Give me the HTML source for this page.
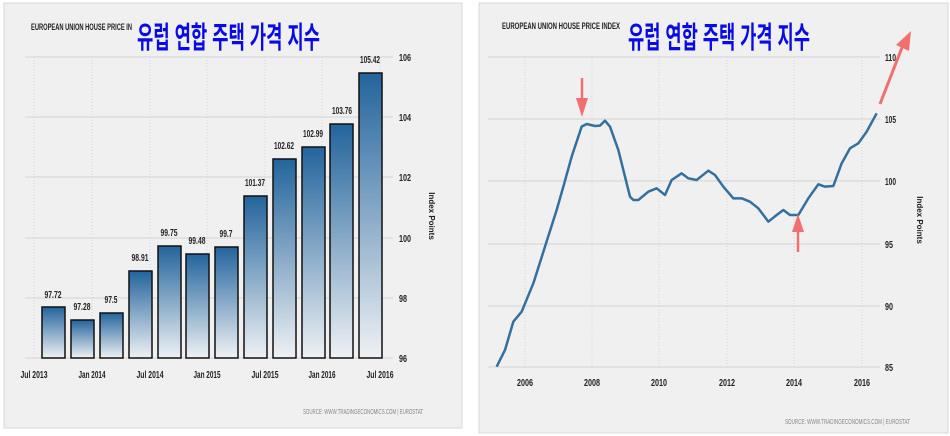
<!DOCTYPE html>
<html><head><meta charset="utf-8"><style>
body{margin:0;width:950px;height:436px;background:#fff;overflow:hidden}
svg{display:block}
text{font-family:"Liberation Sans","Noto Sans CJK KR",sans-serif}
</style></head><body>
<svg width="950" height="436" viewBox="0 0 950 436" xmlns="http://www.w3.org/2000/svg">
<defs>
<linearGradient id="g" x1="0" y1="0" x2="0" y2="1">
<stop offset="0" stop-color="#23649c"/><stop offset="1" stop-color="#eef1f4"/>
</linearGradient>
</defs>
<!-- left panel -->
<rect x="4" y="3" width="458" height="425" fill="#f0f0f0" stroke="#d8d8d8"/>
<g stroke="#d4d4d4" stroke-width="1">
<line x1="25" y1="57" x2="393" y2="57"/><line x1="25" y1="117" x2="393" y2="117"/>
<line x1="25" y1="177" x2="393" y2="177"/><line x1="25" y1="238" x2="393" y2="238"/>
<line x1="25" y1="298" x2="393" y2="298"/><line x1="25" y1="358" x2="393" y2="358"/>
</g>
<g stroke="#d4d4d4" stroke-dasharray="1,2">
<line x1="34" y1="57" x2="34" y2="358"/><line x1="92" y1="57" x2="92" y2="358"/>
<line x1="150" y1="57" x2="150" y2="358"/><line x1="207" y1="57" x2="207" y2="358"/>
<line x1="265" y1="57" x2="265" y2="358"/><line x1="322" y1="57" x2="322" y2="358"/>
<line x1="380" y1="57" x2="380" y2="358"/>
</g>
<g fill="url(#g)" stroke="#111" stroke-width="1.5">
<rect x="42" y="307" width="23" height="51"/>
<rect x="71" y="320" width="23" height="38"/>
<rect x="100" y="313" width="23" height="45"/>
<rect x="129" y="271" width="23" height="87"/>
<rect x="158" y="246" width="23" height="112"/>
<rect x="186" y="254" width="23" height="104"/>
<rect x="215" y="247" width="23" height="111"/>
<rect x="244" y="196" width="23" height="162"/>
<rect x="273" y="159" width="23" height="199"/>
<rect x="302" y="147" width="23" height="211"/>
<rect x="330" y="124" width="23" height="234"/>
<rect x="359" y="73" width="23" height="285"/>
</g>
<g font-size="10" fill="#222" text-anchor="middle" font-weight="bold" lengthAdjust="spacingAndGlyphs">
<text x="53" y="298" textLength="17" lengthAdjust="spacingAndGlyphs">97.72</text>
<text x="82" y="310" textLength="17" lengthAdjust="spacingAndGlyphs">97.28</text>
<text x="111" y="303" textLength="13" lengthAdjust="spacingAndGlyphs">97.5</text>
<text x="140" y="261" textLength="17" lengthAdjust="spacingAndGlyphs">98.91</text>
<text x="169" y="236" textLength="17" lengthAdjust="spacingAndGlyphs">99.75</text>
<text x="197" y="244" textLength="17" lengthAdjust="spacingAndGlyphs">99.48</text>
<text x="226" y="237" textLength="13" lengthAdjust="spacingAndGlyphs">99.7</text>
<text x="255" y="186" textLength="20" lengthAdjust="spacingAndGlyphs">101.37</text>
<text x="284" y="149" textLength="20" lengthAdjust="spacingAndGlyphs">102.62</text>
<text x="313" y="137" textLength="20" lengthAdjust="spacingAndGlyphs">102.99</text>
<text x="342" y="114" textLength="20" lengthAdjust="spacingAndGlyphs">103.76</text>
<text x="370" y="63" textLength="20" lengthAdjust="spacingAndGlyphs">105.42</text>
</g>
<g font-size="10" fill="#222" font-weight="bold">
<text x="399" y="61" textLength="12" lengthAdjust="spacingAndGlyphs">106</text>
<text x="399" y="121" textLength="12" lengthAdjust="spacingAndGlyphs">104</text>
<text x="399" y="181" textLength="12" lengthAdjust="spacingAndGlyphs">102</text>
<text x="399" y="242" textLength="12" lengthAdjust="spacingAndGlyphs">100</text>
<text x="399" y="302" textLength="8" lengthAdjust="spacingAndGlyphs">98</text>
<text x="399" y="362" textLength="8" lengthAdjust="spacingAndGlyphs">96</text>
</g>
<g font-size="10" fill="#222" text-anchor="middle" font-weight="bold">
<text x="34" y="378" textLength="27" lengthAdjust="spacingAndGlyphs">Jul 2013</text>
<text x="92" y="378" textLength="27" lengthAdjust="spacingAndGlyphs">Jan 2014</text>
<text x="150" y="378" textLength="27" lengthAdjust="spacingAndGlyphs">Jul 2014</text>
<text x="207" y="378" textLength="27" lengthAdjust="spacingAndGlyphs">Jan 2015</text>
<text x="265" y="378" textLength="27" lengthAdjust="spacingAndGlyphs">Jul 2015</text>
<text x="322" y="378" textLength="27" lengthAdjust="spacingAndGlyphs">Jan 2016</text>
<text x="380" y="378" textLength="27" lengthAdjust="spacingAndGlyphs">Jul 2016</text>
</g>
<text x="31" y="30" font-size="9" fill="#222" font-weight="bold" textLength="101" lengthAdjust="spacingAndGlyphs">EUROPEAN UNION HOUSE PRICE IN</text>
<text x="137" y="48" font-size="30" fill="#0a0ae6" font-weight="bold" textLength="183" lengthAdjust="spacingAndGlyphs">유럽 연합 주택 가격 지수</text>
<text transform="translate(429,216) rotate(90)" font-size="8" fill="#222" font-weight="bold" text-anchor="middle">Index Points</text>
<text x="303" y="414" font-size="7" fill="#888" textLength="120" lengthAdjust="spacingAndGlyphs">SOURCE: WWW.TRADINGECONOMICS.COM | EUROSTAT</text>

<!-- right panel -->
<rect x="479" y="3" width="469" height="430" fill="#f0f0f0" stroke="#d8d8d8"/>
<g stroke="#d4d4d4">
<line x1="488" y1="57" x2="880" y2="57"/><line x1="488" y1="119" x2="880" y2="119"/>
<line x1="488" y1="181" x2="880" y2="181"/><line x1="488" y1="244" x2="880" y2="244"/>
<line x1="488" y1="306" x2="880" y2="306"/><line x1="488" y1="367" x2="880" y2="367"/>
</g>
<g stroke="#d4d4d4" stroke-dasharray="1,2">
<line x1="525" y1="57" x2="525" y2="367"/><line x1="592" y1="57" x2="592" y2="367"/>
<line x1="659" y1="57" x2="659" y2="367"/><line x1="727" y1="57" x2="727" y2="367"/>
<line x1="794" y1="57" x2="794" y2="367"/><line x1="862" y1="57" x2="862" y2="367"/>
</g>
<g transform="translate(475,0) scale(0.33333)">
<polyline fill="none" stroke="#33709e" stroke-width="2.5" vector-effect="non-scaling-stroke" stroke-linejoin="round"
points="65,1100 90,1050 115,965 140,935 175,850 210,740 245,630 265,560 290,470 320,380 335,372 360,378 375,377 390,362 405,380 430,450 465,590 475,600 490,600 520,575 545,565 570,585 590,540 620,520 640,535 665,540 700,512 720,525 745,560 775,595 800,595 825,605 850,625 880,665 905,645 925,630 945,645 970,645 1000,595 1030,553 1050,560 1075,558 1100,490 1125,445 1150,430 1175,395 1205,340"/>
</g>
<g font-size="10" fill="#222" font-weight="bold">
<text x="885" y="61" textLength="11" lengthAdjust="spacingAndGlyphs">110</text>
<text x="885" y="123" textLength="11" lengthAdjust="spacingAndGlyphs">105</text>
<text x="885" y="185" textLength="11" lengthAdjust="spacingAndGlyphs">100</text>
<text x="885" y="248" textLength="8" lengthAdjust="spacingAndGlyphs">95</text>
<text x="885" y="310" textLength="8" lengthAdjust="spacingAndGlyphs">90</text>
<text x="885" y="371" textLength="8" lengthAdjust="spacingAndGlyphs">85</text>
</g>
<g font-size="10" fill="#222" text-anchor="middle" font-weight="bold">
<text x="525" y="386" textLength="16" lengthAdjust="spacingAndGlyphs">2006</text>
<text x="592" y="386" textLength="16" lengthAdjust="spacingAndGlyphs">2008</text>
<text x="659" y="386" textLength="16" lengthAdjust="spacingAndGlyphs">2010</text>
<text x="727" y="386" textLength="16" lengthAdjust="spacingAndGlyphs">2012</text>
<text x="794" y="386" textLength="16" lengthAdjust="spacingAndGlyphs">2014</text>
<text x="862" y="386" textLength="16" lengthAdjust="spacingAndGlyphs">2016</text>
</g>
<text x="502" y="29" font-size="9" fill="#222" font-weight="bold" textLength="118" lengthAdjust="spacingAndGlyphs">EUROPEAN UNION HOUSE PRICE INDEX</text>
<text x="628" y="48" font-size="30" fill="#0a0ae6" font-weight="bold" textLength="182" lengthAdjust="spacingAndGlyphs">유럽 연합 주택 가격 지수</text>
<text transform="translate(917,220) rotate(90)" font-size="8" fill="#222" font-weight="bold" text-anchor="middle">Index Points</text>
<text x="785" y="424" font-size="7" fill="#888" textLength="125" lengthAdjust="spacingAndGlyphs">SOURCE: WWW.TRADINGECONOMICS.COM | EUROSTAT</text>
<!-- arrows -->
<g fill="#f07070" stroke="#f07070">
<line x1="582" y1="78" x2="582" y2="100" stroke-width="2.5"/>
<polygon points="576,98 588,98 582,117" stroke="none"/>
<line x1="798" y1="252" x2="798" y2="230" stroke-width="2.5"/>
<polygon points="792,232 804,232 798,214" stroke="none"/>
<line x1="880" y1="104" x2="903" y2="45" stroke-width="3"/>
<polygon points="911,31 896,45 909,51" stroke="none"/>
</g>
</svg>
</body></html>
